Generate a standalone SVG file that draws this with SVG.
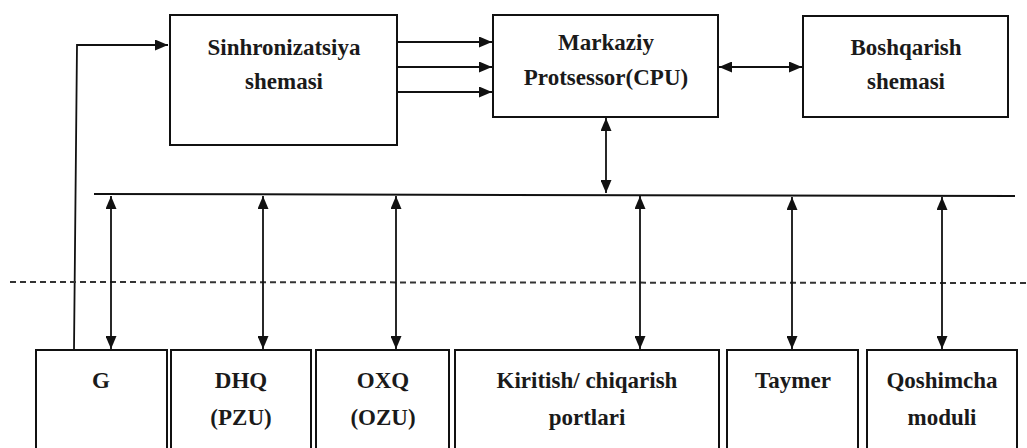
<svg xmlns="http://www.w3.org/2000/svg" width="1027" height="448" viewBox="0 0 1027 448">
<defs>
<marker id="ah" markerUnits="userSpaceOnUse" markerWidth="13" markerHeight="11" refX="13" refY="5.5" orient="auto-start-reverse">
<path d="M0,0 L13,5.5 L0,11 z" fill="#111"/>
</marker>
</defs>
<rect width="1027" height="448" fill="#fff"/>
<g id="connectors" fill="none" stroke="#111" stroke-width="1.8">
<polyline points="74,350 77,45 168,45" marker-end="url(#ah)"/>
<line x1="397" y1="42" x2="492" y2="42" marker-end="url(#ah)"/>
<line x1="397" y1="67" x2="492" y2="67" marker-end="url(#ah)"/>
<line x1="397" y1="92" x2="492" y2="92" marker-end="url(#ah)"/>
<line x1="719" y1="67" x2="802" y2="67" marker-start="url(#ah)" marker-end="url(#ah)"/>
<line x1="606" y1="118" x2="606" y2="193" marker-start="url(#ah)" marker-end="url(#ah)"/>
<line x1="94" y1="194" x2="1015" y2="196" stroke-width="2"/>
<line x1="10" y1="282" x2="1027" y2="283" stroke="#333" stroke-width="2" stroke-dasharray="6,4"/>
<line x1="111" y1="196" x2="111" y2="349" marker-start="url(#ah)" marker-end="url(#ah)"/>
<line x1="263" y1="196" x2="263" y2="349" marker-start="url(#ah)" marker-end="url(#ah)"/>
<line x1="396" y1="196" x2="396" y2="349" marker-start="url(#ah)" marker-end="url(#ah)"/>
<line x1="640" y1="196" x2="640" y2="349" marker-start="url(#ah)" marker-end="url(#ah)"/>
<line x1="792" y1="197" x2="792" y2="349" marker-start="url(#ah)" marker-end="url(#ah)"/>
<line x1="942" y1="197" x2="942" y2="349" marker-start="url(#ah)" marker-end="url(#ah)"/>
</g>
<g font-family="Liberation Serif" font-weight="bold" font-size="23" fill="#1a1a1a" text-anchor="middle">
<g id="sinh">
<rect x="170" y="15" width="227" height="130" fill="#fff" stroke="#111" stroke-width="2"/>
<text x="284" y="55">Sinhronizatsiya</text>
<text x="284" y="89">shemasi</text>
</g>
<g id="cpu">
<rect x="493" y="15" width="225" height="102" fill="#fff" stroke="#111" stroke-width="2"/>
<text x="606" y="50">Markaziy</text>
<text x="606" y="85">Protsessor(CPU)</text>
</g>
<g id="boshqarish">
<rect x="803" y="16" width="205" height="101" fill="#fff" stroke="#111" stroke-width="2"/>
<text x="906" y="55">Boshqarish</text>
<text x="906" y="89">shemasi</text>
</g>
<g id="g">
<rect x="36" y="350" width="131" height="110" fill="#fff" stroke="#111" stroke-width="2"/>
<text x="101" y="388">G</text>
</g>
<g id="dhq">
<rect x="171" y="350" width="140" height="110" fill="#fff" stroke="#111" stroke-width="2"/>
<text x="241" y="388">DHQ</text>
<text x="241" y="425">(PZU)</text>
</g>
<g id="oxq">
<rect x="316" y="350" width="133" height="110" fill="#fff" stroke="#111" stroke-width="2"/>
<text x="383" y="388">OXQ</text>
<text x="383" y="425">(OZU)</text>
</g>
<g id="kiritish">
<rect x="455" y="350" width="264" height="110" fill="#fff" stroke="#111" stroke-width="2"/>
<text x="587" y="388">Kiritish/ chiqarish</text>
<text x="587" y="425">portlari</text>
</g>
<g id="taymer">
<rect x="727" y="350" width="131" height="110" fill="#fff" stroke="#111" stroke-width="2"/>
<text x="793" y="388">Taymer</text>
</g>
<g id="qoshimcha">
<rect x="867" y="350" width="150" height="110" fill="#fff" stroke="#111" stroke-width="2"/>
<text x="942" y="388">Qoshimcha</text>
<text x="942" y="425">moduli</text>
</g>
</g>
</svg>
